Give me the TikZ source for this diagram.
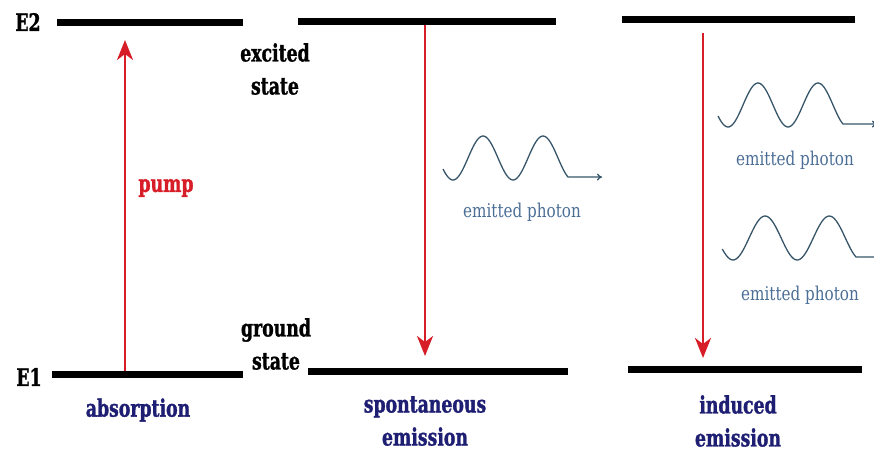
\documentclass[tikz,border=0pt]{standalone}
\usepackage{fontspec}
\usepackage{tikz}
\usetikzlibrary{arrows.meta}
\newfontfamily\slabfont[FakeStretch=0.72,BoldFeatures={FakeBold=1.2}]{DejaVu Serif}
\newfontfamily\lightslab[FakeStretch=0.8]{DejaVu Serif}
\definecolor{levelred}{RGB}{215,30,40}
\definecolor{labnavy}{RGB}{30,30,115}
\definecolor{wavegrey}{RGB}{55,85,105}
\definecolor{photonblue}{RGB}{75,110,150}

\begin{document}
\begin{tikzpicture}[x=1pt,y=-1pt,
    level/.style={line width=7pt},
    transition/.style={levelred,line width=2.6pt,-{Stealth[length=20pt,width=16pt,inset=6pt]}},
    boldlab/.style={font=\slabfont\bfseries\fontsize{24}{33}\selectfont,align=center,inner sep=0pt},
    photonlab/.style={photonblue,font=\lightslab\fontsize{19}{21}\selectfont,inner sep=0pt},
    photon/.pic={\draw[wavegrey,line width=1.3pt,-{To[length=5pt,width=7pt]}]
      plot[domain=-10:115,samples=80,smooth] (\x,{22*cos(6*\x)}) -- ++(34,0);}]
        \useasboundingbox (0,0) rectangle (874,451);
        % energy levels
        \draw[level] (57,22)--(243,22);\draw[level] (52,374)--(243,374);
        \draw[level] (298,21)--(556,21);\draw[level] (308,371)--(568,371);
        \draw[level] (622,19)--(855,19);\draw[level] (628,369)--(862,369);
        \node[boldlab] (etwo) at (28,22) {E2};
        \node[boldlab] (eone) at (29,377) {E1};
        \node[boldlab] (excited) at (275,69) {excited\\state};
        \node[boldlab] (ground) at (276,344) {ground\\state};
        % transitions
        \coordinate (pumpfoot) at (125,371);\coordinate (pumphead) at (125,40);
        \coordinate (spontop) at (425,25);\coordinate (sponbot) at (425,356);
        \coordinate (indtop) at (703,33);\coordinate (indbot) at (703,358);
        \draw[transition] (pumpfoot)--(pumphead);
        \draw[transition] (spontop)--(sponbot);
        \draw[transition] (indtop)--(indbot);
        \node[boldlab,levelred] (pump) at (166,188) {pump};
        % photons
        \pic at (453,158) {photon};
        \pic at (728,105) {photon};
        \pic[xscale=1.07] at (733,238) {photon};
        \node[photonlab] (photonA) at (522,212) {emitted photon};
        \node[photonlab] (photonB) at (795,160) {emitted photon};
        \node[photonlab] (photonC) at (800,295) {emitted photon};
        % process names
        \node[boldlab,labnavy] (absorb) at (138,410) {absorption};
        \node[boldlab,labnavy] (spont) at (425,421) {spontaneous\\emission};
        \node[boldlab,labnavy] (induced) at (738,421) {induced\\emission};
      \end{tikzpicture}
\end{document}
